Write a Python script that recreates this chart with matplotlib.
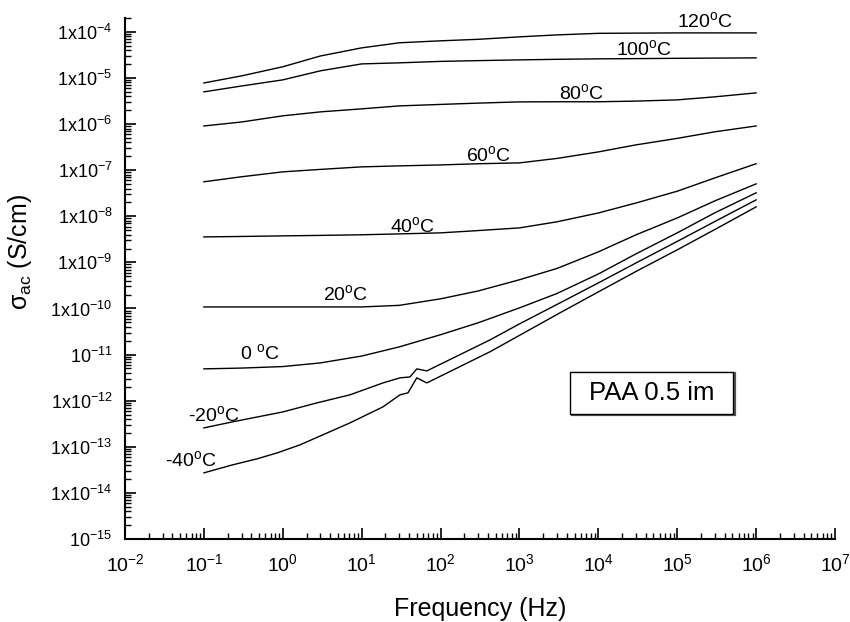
import matplotlib
matplotlib.use("Agg")
import matplotlib.pyplot as plt
from matplotlib.ticker import LogLocator, FixedLocator, FixedFormatter, NullFormatter
from matplotlib.patches import Rectangle

plt.rcParams['font.family'] = ['Liberation Sans', 'DejaVu Sans']
plt.rcParams['mathtext.fontset'] = 'custom'
plt.rcParams['mathtext.rm'] = 'Liberation Sans'
plt.rcParams['mathtext.it'] = 'Liberation Sans'
plt.rcParams['mathtext.default'] = 'regular'

# ---------------- data ----------------
f_std = [0.1, 0.3, 1, 3, 10, 30, 100, 300, 1e3, 3e3, 1e4, 3e4, 1e5, 3e5, 1e6]

s_120 = [7.8e-6, 1.11e-5, 1.75e-5, 3.0e-5, 4.5e-5, 5.8e-5, 6.4e-5, 6.9e-5, 7.8e-5, 8.6e-5, 9.3e-5, 9.4e-5, 9.5e-5, 9.5e-5, 9.5e-5]
s_100 = [5.0e-6, 6.7e-6, 9.1e-6, 1.43e-5, 2.02e-5, 2.13e-5, 2.29e-5, 2.38e-5, 2.47e-5, 2.54e-5, 2.6e-5, 2.63e-5, 2.67e-5, 2.70e-5, 2.73e-5]
s_80 = [9.1e-7, 1.11e-6, 1.51e-6, 1.84e-6, 2.14e-6, 2.48e-6, 2.67e-6, 2.85e-6, 3.03e-6, 3.05e-6, 3.05e-6, 3.15e-6, 3.35e-6, 3.9e-6, 4.75e-6]
s_60 = [5.6e-8, 7.2e-8, 9.2e-8, 1.04e-7, 1.18e-7, 1.24e-7, 1.30e-7, 1.38e-7, 1.44e-7, 1.80e-7, 2.49e-7, 3.54e-7, 4.9e-7, 6.8e-7, 9.1e-7]
s_40 = [3.57e-9, 3.65e-9, 3.76e-9, 3.85e-9, 3.97e-9, 4.15e-9, 4.37e-9, 4.9e-9, 5.6e-9, 7.6e-9, 1.18e-8, 1.94e-8, 3.5e-8, 6.8e-8, 1.38e-7]
s_20 = [1.08e-10, 1.08e-10, 1.08e-10, 1.08e-10, 1.08e-10, 1.17e-10, 1.62e-10, 2.4e-10, 4.2e-10, 7.4e-10, 1.69e-9, 3.96e-9, 9.2e-9, 2.16e-8, 5.05e-8]
s_0 = [4.9e-12, 5.1e-12, 5.5e-12, 6.6e-12, 9.3e-12, 1.47e-11, 2.7e-11, 4.9e-11, 1.03e-10, 2.12e-10, 5.6e-10, 1.53e-9, 4.37e-9, 1.19e-8, 3.23e-8]

f_m20 = [0.1, 0.23, 1, 2.7, 7.1, 18.6, 30.6, 41, 50, 67, 423, 1e3, 3.26e3, 1e4, 3.1e4, 1e5, 3.1e5, 1e6]
s_m20 = [2.57e-13, 3.47e-13, 5.7e-13, 8.95e-13, 1.34e-12, 2.43e-12, 3.13e-12, 3.28e-12, 4.9e-12, 4.43e-12, 2.08e-11, 4.63e-11, 1.32e-10, 3.59e-10, 1.0e-9, 2.85e-9, 7.94e-9, 2.27e-8]

f_m40 = [0.1, 0.23, 0.47, 0.85, 1.65, 3.2, 7.1, 18.6, 30.6, 38.6, 50, 67, 423, 3.26e3, 1e4, 3.1e4, 1e5, 3.1e5, 1e6]
s_m40 = [2.72e-14, 4.05e-14, 5.47e-14, 7.38e-14, 1.1e-13, 1.81e-13, 3.3e-13, 7.34e-13, 1.34e-12, 1.48e-12, 3.13e-12, 2.43e-12, 1.15e-11, 8.04e-11, 2.29e-10, 6.55e-10, 1.87e-9, 5.33e-9, 1.6e-8]

curve_labels = ['120$^{o}$C', '100$^{o}$C', '80$^{o}$C', '60$^{o}$C', '40$^{o}$C',
                '20$^{o}$C', '0 $^{o}$C', '-20$^{o}$C', '-40$^{o}$C']
label_f = [1.0e5, 1.67e4, 3.16e3, 210, 22.8, 3.2, 0.287, 0.0628, 0.0321]
label_s = [1.28e-4, 3.17e-5, 3.52e-6, 1.59e-7, 4.6e-9, 1.54e-10, 8.07e-12, 3.65e-13, 3.85e-14]

xtick_vals = [1e-2, 1e-1, 1e0, 1e1, 1e2, 1e3, 1e4, 1e5, 1e6, 1e7]
xtick_labels = ['10$^{-2}$', '10$^{-1}$', '10$^{0}$', '10$^{1}$', '10$^{2}$', '10$^{3}$',
                '10$^{4}$', '10$^{5}$', '10$^{6}$', '10$^{7}$']
ytick_vals = [1e-15, 1e-14, 1e-13, 1e-12, 1e-11, 1e-10, 1e-9, 1e-8, 1e-7, 1e-6, 1e-5, 1e-4]
ytick_labels = ['10$^{-15}$', '1x10$^{-14}$', '1x10$^{-13}$', '1x10$^{-12}$', '10$^{-11}$',
                '1x10$^{-10}$', '1x10$^{-9}$', '1x10$^{-8}$', '1x10$^{-7}$', '1x10$^{-6}$',
                '1x10$^{-5}$', '1x10$^{-4}$']
box_text = 'PAA 0.5 im'

# ---------------- plot ----------------
fig = plt.figure(figsize=(8.5, 6.22), dpi=100)
ax = fig.add_axes([125/850, 1-539/622, 710/850, 521/622])

curves = [(f_std, s_120), (f_std, s_100), (f_std, s_80), (f_std, s_60), (f_std, s_40),
          (f_std, s_20), (f_std, s_0), (f_m20, s_m20), (f_m40, s_m40)]
for fx, sy in curves:
    ax.plot(fx, sy, color='black', lw=1.0)

ax.set_xscale('log')
ax.set_yscale('log')
ax.set_xlim(1e-2, 1e7)
ax.set_ylim(1e-15, 2e-4)

for txt, fx, sy in zip(curve_labels, label_f, label_s):
    ax.text(fx, sy, txt, fontsize=14, ha='left', va='baseline')

ax.xaxis.set_major_locator(FixedLocator(xtick_vals))
ax.xaxis.set_major_formatter(FixedFormatter(xtick_labels))
ax.yaxis.set_major_locator(FixedLocator(ytick_vals))
ax.yaxis.set_major_formatter(FixedFormatter(ytick_labels))
ax.xaxis.set_minor_locator(LogLocator(base=10, subs=range(2, 10), numticks=100))
ax.yaxis.set_minor_locator(LogLocator(base=10, subs=range(2, 10), numticks=100))
ax.xaxis.set_minor_formatter(NullFormatter())
ax.yaxis.set_minor_formatter(NullFormatter())

for side in ['top', 'right']:
    ax.spines[side].set_visible(False)
for side in ['left', 'bottom']:
    ax.spines[side].set_linewidth(1.5)

ax.tick_params(axis='both', which='major', direction='in', length=8, width=1.2)
ax.tick_params(axis='both', which='minor', direction='in', length=4.5, width=1.0)
ax.tick_params(axis='x', which='major', labelsize=14, pad=10)
ax.tick_params(axis='y', which='major', labelsize=13, pad=9)

ax.set_xlabel('Frequency (Hz)', fontsize=18)
ax.xaxis.set_label_coords(0.5, -0.1113)
ax.set_ylabel('σ$_{ac}$ (S/cm)', fontsize=18)
ax.yaxis.set_label_coords(-0.128, 0.551)

# annotation box
ax.add_patch(Rectangle((0.629, 0.238), 0.2296, 0.0806, transform=ax.transAxes,
                       facecolor='none', edgecolor='#555555', lw=1.6, zorder=3))
ax.add_patch(Rectangle((0.627, 0.240), 0.2296, 0.0806, transform=ax.transAxes,
                       facecolor='white', edgecolor='black', lw=1.0, zorder=4))
ax.text(0.627 + 0.2296/2, 0.240 + 0.0806/2, box_text, transform=ax.transAxes,
        fontsize=18.5, ha='center', va='center', zorder=5)

fig.savefig('out.png', dpi=100)
